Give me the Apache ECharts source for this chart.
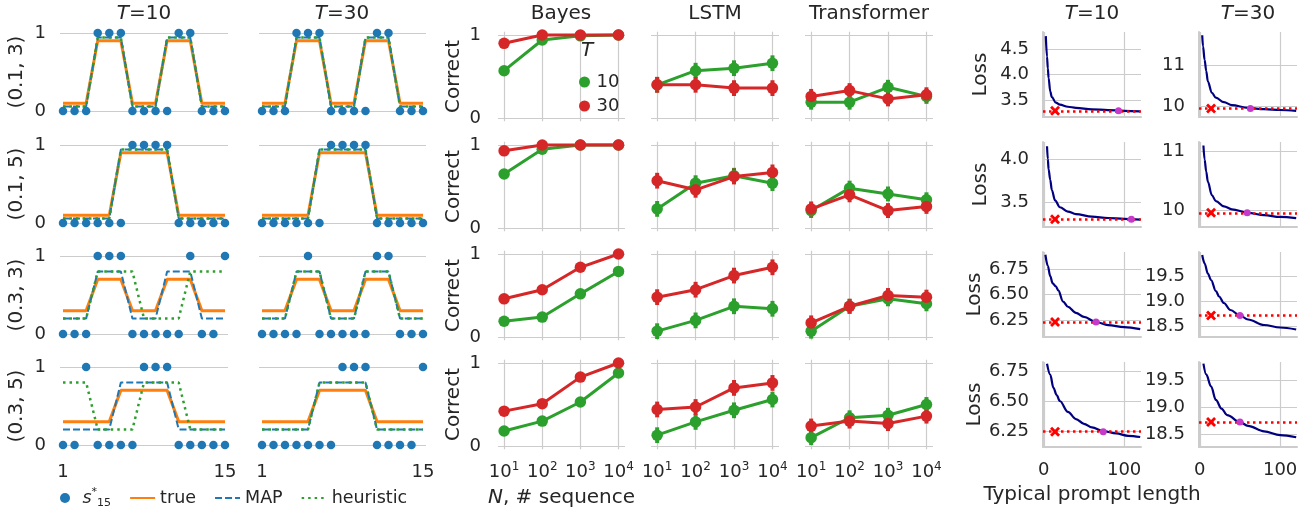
<!DOCTYPE html>
<html>
<head>
<meta charset="utf-8">
<script src="https://cdn.jsdelivr.net/npm/echarts@6/dist/echarts.min.js"></script>
<style>html,body{margin:0;background:#fff}#chart{width:1309px;height:512px}</style>
</head>
<body>
<div id="chart"></div>
<script>
// ---- left block: hidden state / observations, rows = (eps, segment length)
const steps = [1, 2, 3, 4, 5, 6, 7, 8, 9, 10, 11, 12, 13, 14, 15];
const rowLabels = ['(0.1, 3)', '(0.1, 5)', '(0.3, 3)', '(0.3, 5)'];
const obsT10 = [
    [0, 0, 0, 1, 1, 1, 0, 0, 0, 0, 1, 1, 0, 0, 0],
    [0, 0, 0, 0, 0, 0, 1, 1, 1, 1, 0, 0, 0, 0, 0],
    [0, 0, 0, 1, 1, 1, 0, 0, 0, 0, 0, 1, 0, 0, 1],
    [0, 0, 1, 0, 0, 0, 0, 1, 1, 1, 0, 0, 0, 0, 0]
];
const obsT30 = [
    [0, 0, 0, 1, 1, 1, 0, 0, 0, 0, 1, 1, 0, 0, 0],
    [0, 0, 0, 0, 0, 0, 1, 1, 1, 1, 0, 0, 0, 0, 0],
    [0, 0, 0, 0, 1, 0, 0, 0, 0, 0, 1, 1, 0, 0, 0],
    [0, 0, 0, 0, 0, 0, 0, 1, 1, 1, 0, 0, 0, 0, 1]
];
const trueProb = [
    [0.1, 0.1, 0.1, 0.9, 0.9, 0.9, 0.1, 0.1, 0.1, 0.9, 0.9, 0.9, 0.1, 0.1, 0.1],
    [0.1, 0.1, 0.1, 0.1, 0.1, 0.9, 0.9, 0.9, 0.9, 0.9, 0.1, 0.1, 0.1, 0.1, 0.1],
    [0.3, 0.3, 0.3, 0.7, 0.7, 0.7, 0.3, 0.3, 0.3, 0.7, 0.7, 0.7, 0.3, 0.3, 0.3],
    [0.3, 0.3, 0.3, 0.3, 0.3, 0.7, 0.7, 0.7, 0.7, 0.7, 0.3, 0.3, 0.3, 0.3, 0.3]
];
const mapProb = [
    [0.06, 0.06, 0.06, 0.94, 0.94, 0.94, 0.06, 0.06, 0.06, 0.94, 0.94, 0.94, 0.06, 0.06, 0.06],
    [0.06, 0.06, 0.06, 0.06, 0.06, 0.94, 0.94, 0.94, 0.94, 0.94, 0.06, 0.06, 0.06, 0.06, 0.06],
    [0.2, 0.2, 0.2, 0.8, 0.8, 0.8, 0.2, 0.2, 0.2, 0.8, 0.8, 0.8, 0.2, 0.2, 0.2],
    [0.2, 0.2, 0.2, 0.2, 0.2, 0.8, 0.8, 0.8, 0.8, 0.8, 0.2, 0.2, 0.2, 0.2, 0.2]
];
const heurT10 = [
    [0.06, 0.06, 0.06, 0.94, 0.94, 0.94, 0.06, 0.06, 0.06, 0.94, 0.94, 0.94, 0.06, 0.06, 0.06],
    [0.06, 0.06, 0.06, 0.06, 0.06, 0.94, 0.94, 0.94, 0.94, 0.94, 0.06, 0.06, 0.06, 0.06, 0.06],
    [0.2, 0.2, 0.2, 0.8, 0.8, 0.8, 0.8, 0.2, 0.2, 0.2, 0.2, 0.8, 0.8, 0.8, 0.8],
    [0.8, 0.8, 0.8, 0.2, 0.2, 0.2, 0.2, 0.8, 0.8, 0.8, 0.8, 0.2, 0.2, 0.2, 0.2]
];
const heurT30 = mapProb;

// ---- middle block: fraction correct vs N (log10)
const nLog = [1, 2, 3, 4];
const bayes10 = [[0.57, 0.94, 0.99, 1.0], [0.65, 0.95, 1.0, 1.0], [0.19, 0.24, 0.52, 0.79], [0.18, 0.30, 0.53, 0.88]];
const bayes30 = [[0.90, 1.0, 1.0, 1.0], [0.93, 1.0, 1.0, 1.0], [0.46, 0.57, 0.84, 1.0], [0.42, 0.51, 0.83, 1.0]];
const lstm10 = [[0.40, 0.57, 0.60, 0.66], [0.23, 0.54, 0.63, 0.54], [0.07, 0.20, 0.37, 0.34], [0.13, 0.29, 0.43, 0.56]];
const lstm30 = [[0.40, 0.40, 0.36, 0.36], [0.57, 0.46, 0.62, 0.67], [0.48, 0.57, 0.74, 0.84], [0.44, 0.47, 0.70, 0.76]];
const tf10 = [[0.19, 0.19, 0.37, 0.26], [0.21, 0.48, 0.41, 0.34], [0.07, 0.37, 0.46, 0.40], [0.10, 0.34, 0.37, 0.50]];
const tf30 = [[0.26, 0.33, 0.23, 0.28], [0.23, 0.40, 0.21, 0.26], [0.17, 0.37, 0.50, 0.48], [0.24, 0.30, 0.27, 0.36]];
const ciLstm = 0.095;
const ciTf = 0.09;

// ---- right block: loss vs typical prompt length
const lossT10 = [
    [[2.5, 4.75], [4, 4.35], [5, 4.12], [6, 3.93], [8, 3.67], [10, 3.56], [15, 3.45], [20, 3.41], [30, 3.37], [40, 3.35], [60, 3.32], [80, 3.305], [100, 3.29], [120, 3.28]],
    [[4, 4.15], [5, 4.00], [6, 3.88], [8, 3.76], [10, 3.64], [14, 3.52], [20, 3.44], [30, 3.39], [40, 3.36], [60, 3.33], [80, 3.315], [100, 3.305], [120, 3.295]],
    [[2, 6.89], [5, 6.78], [8, 6.68], [11, 6.61], [15, 6.58], [18, 6.54], [24, 6.43], [30, 6.38], [40, 6.32], [50, 6.28], [65, 6.23], [80, 6.20], [100, 6.18], [120, 6.16]],
    [[4, 6.81], [8, 6.72], [12, 6.61], [16, 6.55], [20, 6.50], [30, 6.41], [40, 6.35], [50, 6.31], [60, 6.28], [74, 6.25], [90, 6.23], [105, 6.21], [120, 6.20]]
];
const lossT30 = [
    [[3, 11.72], [4, 11.45], [6, 11.12], [8, 10.85], [10, 10.60], [15, 10.32], [20, 10.20], [30, 10.09], [40, 10.02], [60, 9.95], [80, 9.92], [100, 9.90], [120, 9.88]],
    [[4.5, 11.09], [6, 10.85], [8, 10.65], [10, 10.48], [15, 10.25], [20, 10.15], [30, 10.06], [40, 10.01], [60, 9.95], [80, 9.91], [100, 9.88], [120, 9.86]],
    [[3, 19.92], [6, 19.75], [10, 19.55], [14, 19.42], [20, 19.20], [24, 19.09], [30, 18.96], [38, 18.82], [50, 18.71], [60, 18.63], [80, 18.52], [100, 18.47], [120, 18.43]],
    [[4.5, 19.8], [8, 19.6], [14, 19.38], [20, 19.13], [27, 18.97], [34, 18.85], [50, 18.72], [60, 18.65], [80, 18.55], [100, 18.48], [120, 18.44]]
];
const refLossT10 = [3.29, 3.30, 6.23, 6.245];
const refLossT30 = [9.94, 9.95, 18.71, 18.72];
const matchLenT10 = [93, 109, 65, 74];
const matchLenT30 = [63, 59, 50, 50];
const crossLen = 14;
const yTicksT10 = [[3.5, 4.0, 4.5], [3.5, 4.0], [6.25, 6.5, 6.75], [6.25, 6.5, 6.75]];
const yTicksT30 = [[10, 11], [10, 11], [18.5, 19.0, 19.5], [18.5, 19.0, 19.5]];
const yRangeT10 = [[3.17, 4.83], [3.21, 4.2], [6.083, 6.917], [6.117, 6.825]];
const yRangeT30 = [[9.73, 11.8], [9.71, 11.15], [18.28, 19.98], [18.26, 19.83]];
const xTicksLen = [0, 100];

const FONT = 'DejaVu Sans';
const INK = '#262626';
const GRIDC = '#cccccc';
const GREEN = '#2ca02c', RED = '#d62728', BLUE = '#1f77b4', ORANGE = '#ff7f0e';

const grids = [], xAxes = [], yAxes = [], series = [];

function axis(min, max, ticks, o) {
    return {
        type: 'value', min: min, max: max,
        axisLine: {show: !!o.spine, onZero: false, lineStyle: {color: GRIDC, width: 2}},
        axisTick: {show: false, customValues: ticks},
        axisLabel: {
            show: !!o.labels, customValues: ticks, color: INK, fontFamily: FONT, fontSize: 18,
            margin: o.margin || 14, formatter: o.fmt, lineHeight: 22,
            rich: {sup: {fontSize: 12, fontFamily: FONT, color: INK, verticalAlign: 'top', lineHeight: 12}}
        },
        splitLine: {show: !!o.grid, lineStyle: {color: GRIDC, width: 1.2}},
        name: o.name || '', nameLocation: 'middle', nameGap: o.nameGap || 30, nameRotate: o.rotate || 0,
        nameTextStyle: {
            color: INK, fontFamily: FONT, fontSize: 20,
            rich: {i: {fontStyle: 'italic', fontFamily: FONT, fontSize: 20, color: INK}}
        }
    };
}

function panel(g, xa, ya) {
    grids.push(g);
    const i = grids.length - 1;
    xa.gridIndex = i;
    ya.gridIndex = i;
    xAxes.push(xa);
    yAxes.push(ya);
    return i;
}

function pairs(xs, ys) {
    return xs.map(function (x, k) { return [x, ys[k]]; });
}

// left block
const leftX = [60, 259], leftW = [168, 167], leftTop = [29, 141, 252, 363];
for (let r = 0; r < 4; r++) {
    for (let c = 0; c < 2; c++) {
        const gi = panel({left: leftX[c], top: leftTop[r], width: leftW[c], height: 86},
            axis(0.74, 15.26, [1, 15], {labels: r === 3, margin: 12}),
            axis(-0.05, 1.05, [0, 1], {labels: c === 0, grid: true, name: c === 0 ? rowLabels[r] : '', nameGap: 33, rotate: 90}));
        const obs = c === 0 ? obsT10[r] : obsT30[r];
        const heur = c === 0 ? heurT10[r] : heurT30[r];
        series.push({type: 'line', name: 'true', xAxisIndex: gi, yAxisIndex: gi, data: pairs(steps, trueProb[r]),
            symbol: 'none', color: ORANGE, lineStyle: {color: ORANGE, width: 3}, z: 2});
        series.push({type: 'line', name: 'MAP', xAxisIndex: gi, yAxisIndex: gi, data: pairs(steps, mapProb[r]),
            symbol: 'none', color: BLUE, lineStyle: {color: BLUE, width: 2, type: [7, 3]}, z: 3});
        series.push({type: 'line', name: 'heuristic', xAxisIndex: gi, yAxisIndex: gi, data: pairs(steps, heur),
            symbol: 'none', color: GREEN, lineStyle: {color: GREEN, width: 2.5, type: [2.5, 4]}, z: 4});
        series.push({type: 'scatter', name: 's', xAxisIndex: gi, yAxisIndex: gi, data: pairs(steps, obs),
            symbol: 'circle', symbolSize: 8.5, itemStyle: {color: BLUE, opacity: 1}, z: 5});
    }
}

// middle block
const midX = [498, 651, 805], midW = [127, 128, 128], midTop = [31.7, 141.7, 250.7, 359.7];
const models = [[bayes10, bayes30, 0], [lstm10, lstm30, ciLstm], [tf10, tf30, ciTf]];
function errBars(gi, vals, ci, color) {
    return {
        type: 'custom', xAxisIndex: gi, yAxisIndex: gi, z: 3,
        data: vals.map(function (v, k) { return [nLog[k], v - ci, v + ci]; }),
        renderItem: function (params, api) {
            const lo = api.coord([api.value(0), api.value(1)]);
            const hi = api.coord([api.value(0), api.value(2)]);
            return {type: 'line', shape: {x1: lo[0], y1: lo[1], x2: hi[0], y2: hi[1]}, style: {stroke: color, lineWidth: 4}};
        }
    };
}
for (let r = 0; r < 4; r++) {
    for (let c = 0; c < 3; c++) {
        const gi = panel({left: midX[c], top: midTop[r], width: midW[c], height: 89.6},
            axis(0.84, 4.17, nLog, {labels: r === 3, grid: true, margin: 12,
                fmt: function (v) { return '10{sup|' + v + '}'; },
                name: (r === 3 && c === 0) ? '{i|N}, # sequence' : '', nameGap: 38}),
            axis(-0.04, 1.04, [0, 1], {labels: c === 0, grid: true, margin: 17,
                name: c === 0 ? 'Correct' : '', nameGap: 34, rotate: 90}));
        const m = models[c];
        [[m[0][r], GREEN, '10'], [m[1][r], RED, '30']].forEach(function (s) {
            series.push({type: 'line', name: s[2], xAxisIndex: gi, yAxisIndex: gi, data: pairs(nLog, s[0]),
                symbol: 'circle', symbolSize: 11.5, color: s[1], itemStyle: {color: s[1]},
                lineStyle: {color: s[1], width: 3}, z: 3});
            if (m[2] > 0) series.push(errBars(gi, s[0], m[2], s[1]));
        });
    }
}

// right block
const rightX = [1043, 1199], rightTop = [32, 142, 252, 362];
const fmtT10 = [function (v) { return v.toFixed(1); }, function (v) { return v.toFixed(1); },
    function (v) { return v.toFixed(2); }, function (v) { return v.toFixed(2); }];
const fmtT30 = [function (v) { return v.toFixed(0); }, function (v) { return v.toFixed(0); },
    function (v) { return v.toFixed(1); }, function (v) { return v.toFixed(1); }];
const XMARK = 'path://M0,2L2,0L5,3L8,0L10,2L7,5L10,8L8,10L5,7L2,10L0,8L3,5Z';
for (let r = 0; r < 4; r++) {
    for (let c = 0; c < 2; c++) {
        const rng = c === 0 ? yRangeT10[r] : yRangeT30[r];
        const gi = panel({left: rightX[c], top: rightTop[r], width: 98, height: 85},
            axis(-1, 121, xTicksLen, {labels: r === 3, grid: true, spine: true, margin: 12,
                name: (r === 3 && c === 0) ? 'Typical prompt length' : '', nameGap: 38}),
            axis(rng[0], rng[1], c === 0 ? yTicksT10[r] : yTicksT30[r], {labels: true, grid: true, spine: true, margin: 14,
                fmt: c === 0 ? fmtT10[r] : fmtT30[r], name: c === 0 ? 'Loss' : '', nameGap: 52, rotate: 90}));
        const ref = c === 0 ? refLossT10[r] : refLossT30[r];
        const match = c === 0 ? matchLenT10[r] : matchLenT30[r];
        series.push({type: 'line', xAxisIndex: gi, yAxisIndex: gi, data: c === 0 ? lossT10[r] : lossT30[r],
            symbol: 'none', smooth: 0.35, smoothMonotone: 'x', lineStyle: {color: '#000080', width: 2.2}, z: 3,
            markLine: {silent: true, symbol: ['none', 'none'], label: {show: false},
                lineStyle: {color: '#ff0000', width: 2.5, type: [2.5, 3.5]}, data: [{yAxis: ref}]}});
        series.push({type: 'scatter', xAxisIndex: gi, yAxisIndex: gi, data: [[crossLen, ref]],
            symbol: XMARK, symbolSize: 10, itemStyle: {color: '#ff0000', opacity: 1}, z: 5});
        series.push({type: 'scatter', xAxisIndex: gi, yAxisIndex: gi, data: [[match, ref]],
            symbol: 'circle', symbolSize: 7, itemStyle: {color: '#c53bc9', opacity: 1}, z: 5});
    }
}

// column titles
const titleText = ['{i|T}=10', '{i|T}=30', 'Bayes', 'LSTM', 'Transformer', '{i|T}=10', '{i|T}=30'];
const titleX = [144, 342, 561, 715, 869, 1092, 1248];
const graphic = titleText.map(function (t, k) {
    return {type: 'text', x: titleX[k], y: 14, style: {text: t, fill: INK, fontSize: 20, fontFamily: FONT,
        align: 'center', verticalAlign: 'middle',
        rich: {i: {fontStyle: 'italic', fontSize: 20, fontFamily: FONT, fill: INK}}}};
});
graphic.push({type: 'text', x: 587, y: 51, style: {text: 'T', fill: INK, fontSize: 20, fontFamily: FONT,
    fontStyle: 'italic', align: 'center', verticalAlign: 'middle'}});

const noDot = {opacity: 0};
const chart = echarts.init(document.getElementById('chart'));
chart.setOption({
    animation: false,
    backgroundColor: '#ffffff',
    textStyle: {fontFamily: FONT},
    grid: grids,
    xAxis: xAxes,
    yAxis: yAxes,
    series: series,
    graphic: graphic,
    legend: [{
        data: [{name: 's'}, {name: 'true', itemStyle: noDot}, {name: 'MAP', itemStyle: noDot}, {name: 'heuristic', itemStyle: noDot}],
        left: 55, top: 482, itemWidth: 25, itemHeight: 10, itemGap: 18,
        selectedMode: false,
        formatter: function (name) { return name === 's' ? '{it|s}{sup|*}{sub|15}' : name; },
        textStyle: {color: INK, fontFamily: FONT, fontSize: 17.5,
            rich: {
                it: {fontStyle: 'italic', fontSize: 17.5, fontFamily: FONT, color: INK, lineHeight: 22},
                sup: {fontSize: 11, fontFamily: FONT, color: INK, verticalAlign: 'top', lineHeight: 11},
                sub: {fontSize: 11, fontFamily: FONT, color: INK, verticalAlign: 'bottom', lineHeight: 11}
            }}
    }, {
        data: ['10', '30'],
        orient: 'vertical', left: 574, top: 68, itemWidth: 14, itemHeight: 11, itemGap: 6,
        icon: 'circle', selectedMode: false,
        textStyle: {color: INK, fontFamily: FONT, fontSize: 18}
    }]
});
</script>
</body>
</html>
